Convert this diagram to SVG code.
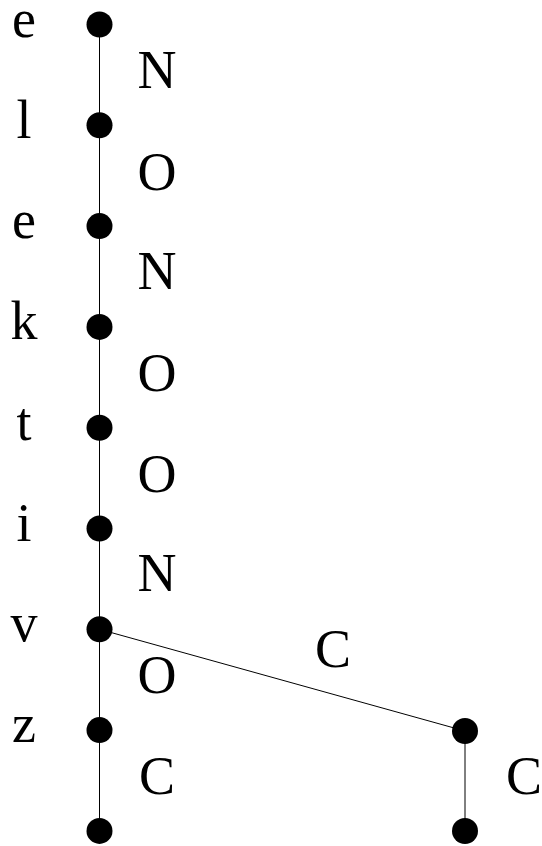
<svg xmlns="http://www.w3.org/2000/svg" width="542" height="846" viewBox="0 0 542 846">
<style>
text{font-family:"Liberation Serif","Times New Roman",serif;font-size:54px;fill:#000;text-anchor:middle}
.e{stroke:#000;stroke-width:1;fill:none}
.n{fill:#000}
</style>
<rect width="542" height="846" fill="#fff"/>
<g id="connectors">
<line class="e" x1="99.5" y1="24.5" x2="99.5" y2="125.3" stroke="#666"/>
<line class="e" x1="99.5" y1="125.3" x2="99.5" y2="226.1"/>
<line class="e" x1="99.5" y1="226.1" x2="99.5" y2="326.9"/>
<line class="e" x1="99.5" y1="326.9" x2="99.5" y2="427.7"/>
<line class="e" x1="99.5" y1="427.7" x2="99.5" y2="528.5"/>
<line class="e" x1="99.5" y1="528.5" x2="99.5" y2="629.3"/>
<line class="e" x1="99.5" y1="629.3" x2="99.5" y2="730.1"/>
<line class="e" x1="99.5" y1="730.1" x2="99.5" y2="830.9"/>
<line class="e" x1="99.5" y1="629.3" x2="465" y2="731"/>
<line class="e" x1="465" y1="731" x2="465" y2="831"/>
<text x="157" y="88">N</text>
<text x="157" y="190">O</text>
<text x="157" y="289">N</text>
<text x="157" y="391">O</text>
<text x="157" y="492">O</text>
<text x="157" y="591">N</text>
<text x="157" y="693">O</text>
<text x="157" y="794">C</text>
<text x="333" y="667">C</text>
<text x="524" y="794">C</text>
</g>
<g id="n1"><circle class="n" cx="99.5" cy="24.5" r="13"/><text x="24" y="37">e</text></g>
<g id="n2"><circle class="n" cx="99.5" cy="125.3" r="13"/><text x="24" y="138">l</text></g>
<g id="n3"><circle class="n" cx="99.5" cy="226.1" r="13"/><text x="24" y="238">e</text></g>
<g id="n4"><circle class="n" cx="99.5" cy="326.9" r="13"/><text x="24" y="339">k</text></g>
<g id="n5"><circle class="n" cx="99.5" cy="427.7" r="13"/><text x="24" y="440">t</text></g>
<g id="n6"><circle class="n" cx="99.5" cy="528.5" r="13"/><text x="24" y="541">i</text></g>
<g id="n7"><circle class="n" cx="99.5" cy="629.3" r="13"/><text x="24" y="641">v</text></g>
<g id="n8"><circle class="n" cx="99.5" cy="730.1" r="13"/><text x="24" y="742">z</text></g>
<g id="n9"><circle class="n" cx="99.5" cy="830.9" r="13"/></g>
<g id="n10"><circle class="n" cx="465" cy="731" r="13"/></g>
<g id="n11"><circle class="n" cx="465" cy="831" r="13"/></g>
</svg>
